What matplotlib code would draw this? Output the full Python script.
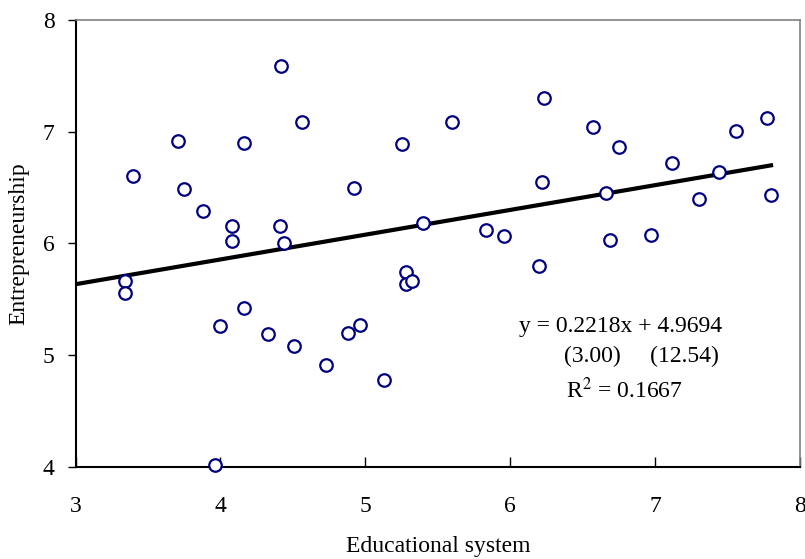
import numpy as np
import matplotlib
matplotlib.use('Agg')
import matplotlib.pyplot as plt

# data
educ = [3.34, 3.34, 3.40, 3.71, 3.75, 3.88, 4.08, 4.08, 4.16, 4.42,
        4.41, 4.44, 4.56, 4.92, 5.25, 5.60, 6.23, 6.57, 6.75, 7.56,
        7.77, 7.12, 7.44, 6.22, 6.66, 7.30, 7.80, 5.40, 5.83, 5.96,
        6.69, 6.97, 6.20, 5.28, 5.28, 5.32, 4.00, 4.16, 4.33, 4.51,
        4.73, 4.88, 4.96, 5.13, 3.96]
entre = [5.66, 5.56, 6.60, 6.92, 6.49, 6.29, 6.16, 6.02, 6.90, 7.59,
         6.16, 6.00, 7.09, 6.50, 6.89, 7.09, 7.30, 7.04, 6.86, 7.01,
         7.12, 6.72, 6.64, 6.55, 6.45, 6.40, 6.43, 6.18, 6.12, 6.07,
         6.03, 6.08, 5.80, 5.74, 5.64, 5.66, 5.26, 5.42, 5.19, 5.08,
         4.91, 5.20, 5.27, 4.78, 4.02]

# trendline as reported on the chart
slope = 0.2218
intercept = 4.9694
t_slope = 3.00
t_icept = 12.54
r2 = 0.1667

xticks = [3, 4, 5, 6, 7, 8]
yticks = [4, 5, 6, 7, 8]

plt.rcParams['font.family'] = ['Liberation Serif', 'DejaVu Serif']
plt.rcParams['mathtext.fontset'] = 'stix'

fig = plt.figure(figsize=(8.05, 5.59), dpi=100)
ax = fig.add_axes([0.0938, 0.165, 0.9, 0.799])

# regression line from left edge to largest x
xl = np.array([xticks[0], max(educ)])
ax.plot(xl, slope * xl + intercept, color='black', lw=3, zorder=2)

ax.plot(educ, entre, 'o', mfc='white', mec='#000080', mew=1.6, ms=9, zorder=3,
        clip_on=False)

ax.set_xlim(xticks[0], xticks[-1])
ax.set_ylim(yticks[0], yticks[-1])
ax.set_xticks(xticks)
ax.set_yticks(yticks)
ax.tick_params(axis='x', direction='in', length=7, width=1, pad=21, labelsize=17)
ax.tick_params(axis='y', direction='out', length=6, width=1, pad=9, labelsize=17)

for s in ['top', 'right']:
    ax.spines[s].set_color('#808080')
    ax.spines[s].set_linewidth(1.2)
for s in ['left', 'bottom']:
    ax.spines[s].set_color('black')
    ax.spines[s].set_linewidth(1.5)

ax.set_xlabel('Educational system', fontsize=17, labelpad=14)
ax.set_ylabel('Entrepreneurship', fontsize=17, labelpad=10)

# equation annotation
fs = 17
ax.text(0.612, 0.313, 'y = %.4fx + %.4f' % (slope, intercept), transform=ax.transAxes,
        fontsize=fs, va='center', ha='left')
ax.text(0.674, 0.246, '(%.2f)     (%.2f)' % (t_slope, t_icept), transform=ax.transAxes,
        fontsize=fs, va='center', ha='left')
ax.text(0.677, 0.172, 'R$^2$ = %.4f' % r2, transform=ax.transAxes,
        fontsize=fs, va='center', ha='left')

fig.savefig('out.png', dpi=100)
